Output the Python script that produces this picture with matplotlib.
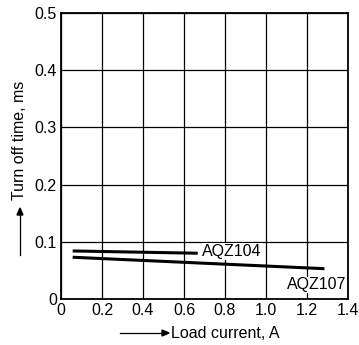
import matplotlib.pyplot as plt

# curves
x104 = [0.057, 0.667]
y104 = [0.084, 0.080]
x107 = [0.057, 1.285]
y107 = [0.073, 0.053]

xticks = [0, 0.2, 0.4, 0.6, 0.8, 1.0, 1.2, 1.4]
xticklabels = ["0", "0.2", "0.4", "0.6", "0.8", "1.0", "1.2", "1.4"]
yticks = [0, 0.1, 0.2, 0.3, 0.4, 0.5]
yticklabels = ["0", "0.1", "0.2", "0.3", "0.4", "0.5"]

plt.rcParams['font.family'] = ['Liberation Sans', 'DejaVu Sans']
fs = 11.5

fig = plt.figure(figsize=(3.59, 3.45), dpi=100)
ax = fig.add_axes([61/359, 1 - 299/345, 287/359, 286/345])

ax.plot(x104, y104, color="k", lw=2.2, solid_capstyle="butt")
ax.plot(x107, y107, color="k", lw=2.2, solid_capstyle="butt")

ax.set_xlim(0, 1.4)
ax.set_ylim(0, 0.5)
ax.set_xticks(xticks)
ax.set_xticklabels(xticklabels, fontsize=fs)
ax.set_yticks(yticks)
ax.set_yticklabels(yticklabels, fontsize=fs)
ax.tick_params(length=0, pad=3)
ax.grid(True, color="k", lw=0.9)
for s in ax.spines.values():
    s.set_linewidth(1.3)

# curve labels
ax.text(0.69, 0.083, "AQZ104", fontsize=fs, va="center", ha="left",
        bbox=dict(fc="white", ec="none", pad=0.5))
ax.text(1.39, 0.038, "AQZ107", fontsize=fs, va="top", ha="right",
        bbox=dict(fc="white", ec="none", pad=0.5))

# axis labels with arrows
fig.text(171/359, 1 - 333/345, "Load current, A", fontsize=fs, va="center", ha="left")
fig.add_artist(plt.Line2D([120/359, 164/359], [1 - 333/345, 1 - 333/345],
                          color="k", lw=0.9, transform=fig.transFigure))
fig.patches.append(plt.Polygon([[162/359, 1 - 330/345], [169/359, 1 - 333/345],
                                [162/359, 1 - 336/345]], closed=True, color="k",
                               transform=fig.transFigure))

fig.text(20/359, 1 - 140/345, "Turn off time, ms", fontsize=fs, rotation=90,
         va="center", ha="center")
fig.add_artist(plt.Line2D([20/359, 20/359], [1 - 255/345, 1 - 213/345],
                          color="k", lw=0.9, transform=fig.transFigure))
fig.patches.append(plt.Polygon([[17/359, 1 - 215/345], [20/359, 1 - 208/345],
                                [23/359, 1 - 215/345]], closed=True, color="k",
                               transform=fig.transFigure))

fig.savefig("out.png", dpi=100)
